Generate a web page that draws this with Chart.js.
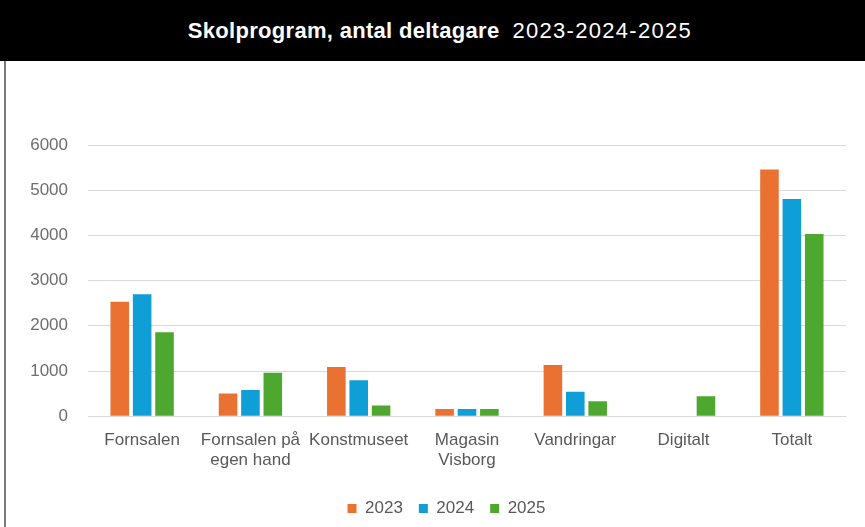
<!DOCTYPE html>
<html>
<head>
<meta charset="utf-8">
<script src="https://cdn.jsdelivr.net/npm/chart.js@4"></script>
<style>
  body { margin: 0; width: 865px; height: 527px; background: #fff; position: relative; overflow: hidden; font-family: 'Liberation Sans', Arial, sans-serif; }
  #head { position: absolute; left: 0; top: 0; width: 850px; padding-left: 15px; height: 61px; background: #000; color: #fff; text-align: center; line-height: 61px; white-space: nowrap; }
  #head b { font-weight: 700; font-size: 22px; letter-spacing: 0.3px; }
  #head span { font-size: 22px; margin-left: 13px; letter-spacing: 1.3px; }
  #edge { position: absolute; left: 4px; top: 61px; width: 2px; height: 466px; background: #7a7a7a; }
  #wrap { position: absolute; left: 0; top: 60px; width: 865px; height: 467px; }
</style>
</head>
<body>
<div id="head"><b>Skolprogram, antal deltagare</b><span>2023-2024-2025</span></div>
<div id="edge"></div>
<div id="wrap"><canvas id="chart" width="865" height="467"></canvas></div>
<script>
const categories = ['Fornsalen', ['Fornsalen på', 'egen hand'], 'Konstmuseet', ['Magasin', 'Visborg'], 'Vandringar', 'Digitalt', 'Totalt'];
const years = ['2023', '2024', '2025'];
const values2023 = [2530, 500, 1090, 160, 1135, 0, 5460];
const values2024 = [2700, 580, 795, 160, 540, 0, 4805];
const values2025 = [1860, 960, 235, 160, 330, 440, 4030];
const yTicks = [0, 1000, 2000, 3000, 4000, 5000, 6000];

const colors = ['#E97132', '#0F9ED5', '#4EA72E'];
const labelFont = { family: "'Liberation Sans', Arial, sans-serif", size: 17 };

// the legend in the original sits a bit right of the canvas centre
const legendShift = {
    id: 'legendShift',
    afterLayout(chart) {
        const l = chart.legend;
        l.left += 47;
        l.width = l.right - l.left;
    }
};

const ctx = document.getElementById('chart').getContext('2d');
const chart = new Chart(ctx, {
    type: 'bar',
    data: {
        labels: categories,
        datasets: [values2023, values2024, values2025].map((vals, i) => ({
            label: years[i],
            data: vals,
            backgroundColor: colors[i],
            borderWidth: 0,
            categoryPercentage: 0.62,
            barPercentage: 0.83
        }))
    },
    plugins: [legendShift],
    options: {
        responsive: false,
        animation: false,
        layout: { padding: { top: 85, left: 0, right: 19, bottom: 0 } },
        plugins: {
            tooltip: { enabled: false },
            legend: {
                position: 'bottom',
                labels: {
                    font: labelFont,
                    color: '#595959',
                    boxWidth: 9,
                    boxHeight: 9,
                    padding: 16
                }
            }
        },
        scales: {
            x: {
                afterFit: scale => { scale.height += 7; },
                grid: { display: false },
                border: { display: false },
                ticks: {
                    font: labelFont,
                    color: '#595959',
                    padding: 6,
                    autoSkip: false,
                    maxRotation: 0,
                    minRotation: 0
                }
            },
            y: {
                min: 0,
                max: 6000,
                afterFit: scale => { scale.width = 88; },
                afterBuildTicks: scale => { scale.ticks = yTicks.map(v => ({ value: v })); },
                grid: { color: '#d9d9d9', drawTicks: false },
                border: { display: false },
                ticks: {
                    font: labelFont,
                    color: '#6e6e6e',
                    padding: 20,
                    callback: v => String(v)
                }
            }
        }
    }
});
</script>
</body>
</html>
